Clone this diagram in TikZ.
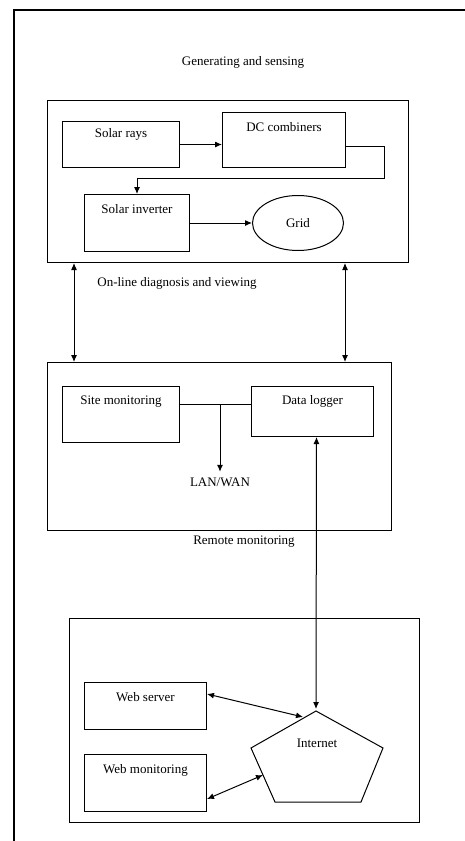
\documentclass[tikz,border=0pt]{standalone}
\usepackage{fontspec}
\setmainfont{Liberation Serif}
\usetikzlibrary{shapes.geometric,arrows.meta}

\tikzset{
  blk/.style={draw, anchor=north west, inner xsep=2pt, inner ysep=0pt},
  grp/.style={draw, anchor=north west, inner sep=0pt},
  >={Latex[length=7pt,width=6pt]}
}

\begin{document}
\begin{tikzpicture}[x=1pt, y=-1pt, line width=1pt, font=\fontsize{13}{15}\selectfont]
\useasboundingbox (0,0) rectangle (465,841);
\draw [line width=1.4pt] (14,841) -- (14,10) -- (465,10);

% generating
\node (gen) [grp, minimum width=361pt, minimum height=162pt] at (47,100) {};
\node (gentxt) at (243,62) {Generating and sensing};
\node (solar) [blk, minimum width=117pt, text height=16pt, text depth=30pt] at (62,121) {Solar rays};
\node (dccomb) [blk, minimum width=123pt, text height=19pt, text depth=36pt] at (222,112) {DC combiners};
\node (inverter) [blk, minimum width=105pt, text height=19pt, text depth=38pt] at (84,194) {Solar inverter};
\node (grid) [draw, ellipse, minimum width=91pt, minimum height=55pt] at (298,223) {Grid};

\draw [->] (solar.east) -- (solar.east -| dccomb.west);
\draw [->] ([yshift=-6pt]dccomb.east) -- ++(38,0) |- ([yshift=16pt]inverter.north) -- (inverter.north);
\draw [->] (inverter) -- (grid);

% remote
\node (remote) [grp, minimum width=344pt, minimum height=168pt] at (47,362) {};
\node (online) at (177,283) {On-line diagnosis and viewing};
\node (remtxt) at (244,542) {Remote monitoring};
\node (site) [blk, minimum width=117pt, text height=18pt, text depth=38pt] at (62,386) {Site monitoring};
\node (logger) [blk, minimum width=122pt, text height=18pt, text depth=32pt] at (251,386) {Data logger};
\node (lanwan) at (220,482) {LAN/WAN};

\draw [<->] ([xshift=27pt]gen.south west) -- ([xshift=27pt]gen.south west |- remote.north);
\draw [<->] ([xshift=-64pt]gen.south east) -- ([xshift=-64pt]gen.south east |- remote.north);
\draw ([yshift=10pt]site.east) -- ([yshift=10pt]site.east -| logger.west);
\draw [->] ([yshift=10pt]site.east -| lanwan) -- ([yshift=2pt]lanwan.north);

% web
\node (web) [grp, minimum width=350pt, minimum height=204pt] at (69,618) {};
\node (webserver) [blk, minimum width=122pt, text height=19pt, text depth=28pt] at (84,682) {Web server};
\node (webmon) [blk, minimum width=122pt, text height=19pt, text depth=38pt] at (84,754) {Web monitoring};

\coordinate (p1) at (316,711);
\coordinate (p2) at (383,748);
\coordinate (p3) at (361,802);
\coordinate (p4) at (275,802);
\coordinate (p5) at (251,748);
\draw (p1) -- (p2) -- (p3) -- (p4) -- (p5) -- cycle;
\node (internet) at (317,743) {Internet};
\coordinate (ws) at (303,717);
\coordinate (wm) at (263,775);

\draw [<->] ([xshift=4pt]logger.south) -- ([yshift=2pt]p1);
\draw [<->] ([yshift=12pt]webserver.east) -- (ws);
\draw [<->] ([yshift=-16pt]webmon.east) -- (wm);
\end{tikzpicture}
\end{document}
